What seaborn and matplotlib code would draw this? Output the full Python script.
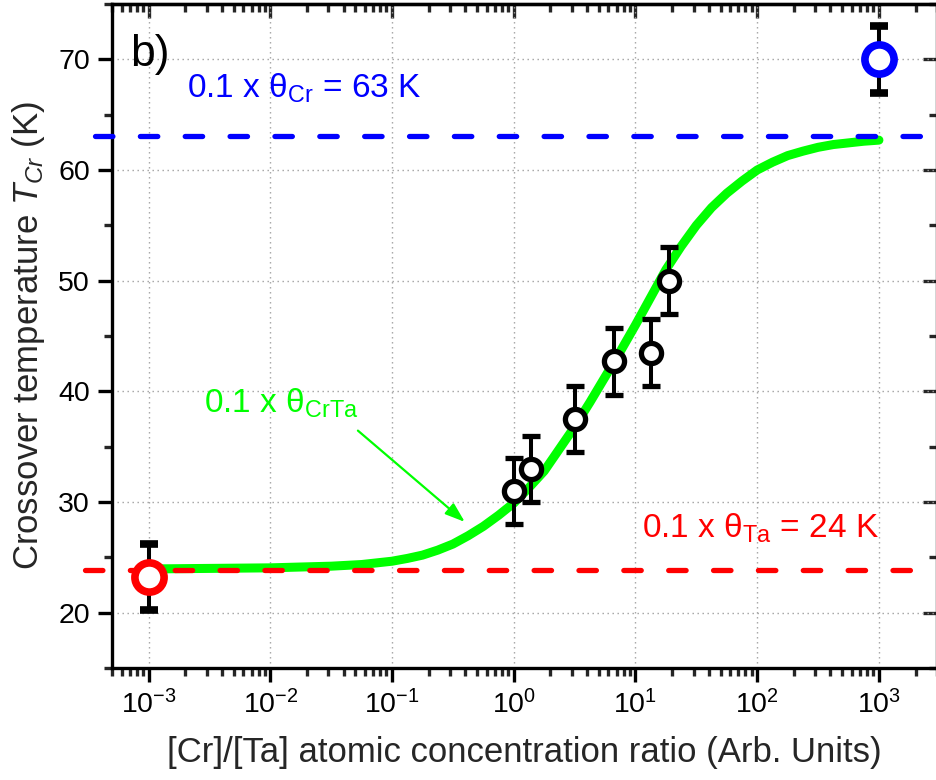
import numpy as np
import pandas as pd
import matplotlib
matplotlib.use("Agg")
import matplotlib.pyplot as plt
import seaborn as sns
from matplotlib.ticker import LogLocator, NullFormatter, MultipleLocator, LogFormatterSciNotation

# ---- data ----
cr_ratio = [1.0, 1.38, 3.17, 6.67, 13.3, 19.0]        # CrTa samples
t_cross = [31.0, 33.0, 37.5, 42.7, 43.5, 50.0]
t_err = [3.0, 3.0, 3.0, 3.0, 3.0, 3.0]

ta_ratio = [1e-3]        # pure Ta
ta_t = [23.2]
ta_err = [3.0]

crpure_ratio = [1e3]     # pure Cr
crpure_t = [70.0]
crpure_err = [3.0]

theta_ta = 23.9          # 0.1 x theta_Ta
theta_cr = 63.1          # 0.1 x theta_Cr

# green curve 0.1 x theta_CrTa, log10(ratio) vs temperature
curve_logx = [-3.0, -2.5, -2.0, -1.5, -1.25, -1.0, -0.875, -0.75, -0.625, -0.5,
              -0.375, -0.25, -0.125, 0.0, 0.125, 0.25, 0.375, 0.5, 0.625, 0.75,
              0.875, 1.0, 1.125, 1.25, 1.375, 1.5, 1.625, 1.75, 1.875, 2.0,
              2.125, 2.25, 2.375, 2.5, 2.625, 2.75, 2.875, 3.0]
curve_t = [23.95, 24.0, 24.05, 24.2, 24.35, 24.65, 24.9, 25.2, 25.65, 26.2,
           26.95, 27.8, 28.8, 29.9, 31.3, 32.8, 34.8, 36.8, 39.0, 41.3,
           43.6, 46.0, 48.5, 51.0, 53.1, 55.0, 56.6, 57.9, 59.0, 60.0,
           60.7, 61.3, 61.7, 62.05, 62.3, 62.45, 62.6, 62.7]

x_major = [1e-3, 1e-2, 1e-1, 1e0, 1e1, 1e2, 1e3]

# ---- style ----
sns.set_theme(style="ticks")
plt.rcParams["font.family"] = ["Liberation Sans", "DejaVu Sans"]
plt.rcParams["mathtext.fontset"] = "custom"
plt.rcParams["mathtext.rm"] = "Liberation Sans"
plt.rcParams["mathtext.it"] = "Liberation Sans:italic"
plt.rcParams["axes.linewidth"] = 2.4

GREEN = "#00ff00"
BLUE = "#0000ff"
RED = "#ff0000"

fig = plt.figure(figsize=(9.37, 7.8), dpi=100)
ax = fig.add_axes([112 / 937, 112 / 780, 825 / 937, 664 / 780])
ax.set_xscale("log")
ax.set_xlim(5e-4, 3e3)
ax.set_ylim(15, 75)

ax.grid(True, which="major", color="#a0a0a0", linestyle=(0, (1, 2.6)), linewidth=1.0)
ax.set_axisbelow(True)

# fitted curve
curve_df = pd.DataFrame({"ratio": 10 ** np.array(curve_logx), "T": curve_t})
sns.lineplot(data=curve_df, x="ratio", y="T", ax=ax, color=GREEN, linewidth=6.5,
             solid_capstyle="round", solid_joinstyle="round", sort=False, zorder=3)

# Debye reference lines
ax.plot([3e-4, 3.2e3], [theta_ta, theta_ta], color=RED, lw=3.8, dashes=(3.3, 5.2),
        dash_capstyle="round", clip_on=False, zorder=4)
ax.plot([3.6e-4, 3.2e3], [theta_cr, theta_cr], color=BLUE, lw=3.8, dashes=(3.3, 5.2),
        dash_capstyle="round", clip_on=False, zorder=4)

# data points
eb = dict(ecolor="black", elinewidth=2.9, capsize=6.5, capthick=2.9, linestyle="none", zorder=5)
ax.errorbar(cr_ratio, t_cross, yerr=t_err, fmt="o", ms=14.5, mfc="white", mec="black", mew=3.8, **eb)
ax.errorbar(ta_ratio, ta_t, yerr=ta_err, fmt="o", ms=21, mfc="white", mec=RED, mew=5.5, **eb)
ax.errorbar(crpure_ratio, crpure_t, yerr=crpure_err, fmt="o", ms=21, mfc="white", mec=BLUE, mew=5.5, **eb)

# annotations
ax.text(7.0e-4, 69.4, "b)", fontsize=32, color="black", va="baseline")
ax.text(2.05e-3, 66.5, r"0.1 x θ$_{\mathrm{Cr}}$ = 63 K", fontsize=24, color=BLUE, va="baseline")
ax.text(11.4, 26.75, r"0.1 x θ$_{\mathrm{Ta}}$ = 24 K", fontsize=24, color=RED, va="baseline")
ax.text(2.84e-3, 38.1, r"0.1 x θ$_{\mathrm{CrTa}}$", fontsize=24, color=GREEN, va="baseline")
ax.annotate("", xy=(0.396, 28.2), xytext=(0.0524, 36.45),
            arrowprops=dict(arrowstyle="-|>,head_length=1.0,head_width=0.35", color=GREEN,
                            lw=1.6, shrinkA=0, shrinkB=0), zorder=3)

# axes labels
ax.set_xlabel("[Cr]/[Ta] atomic concentration ratio (Arb. Units)", fontsize=25, labelpad=12)
ax.set_ylabel(r"Crossover temperature $T_{Cr}$ (K)", fontsize=25, labelpad=8)

# ticks
ax.set_xticks(x_major)
ax.xaxis.set_minor_locator(LogLocator(base=10, subs=np.arange(2, 10), numticks=20))
ax.xaxis.set_major_formatter(LogFormatterSciNotation())
ax.xaxis.set_minor_formatter(NullFormatter())
ax.yaxis.set_major_locator(MultipleLocator(10))
ax.yaxis.set_minor_locator(MultipleLocator(5))
ax.tick_params(which="major", direction="out", length=10, width=2.4, labelsize=20.5,
               pad=6, colors="black", bottom=True, left=True, top=False, right=False)
ax.tick_params(which="minor", direction="out", length=5.5, width=2.4,
               bottom=True, left=True, top=False, right=False)

# mirrored inward ticks on top and right
top = ax.secondary_xaxis("top", functions=(lambda v: v, lambda v: v))
top.set_xticks(x_major)
top.xaxis.set_minor_locator(LogLocator(base=10, subs=np.arange(2, 10), numticks=20))
top.xaxis.set_major_formatter(NullFormatter())
top.xaxis.set_minor_formatter(NullFormatter())
top.tick_params(which="major", direction="in", length=10, width=2.4)
top.tick_params(which="minor", direction="in", length=5.5, width=2.4)

right = ax.secondary_yaxis("right", functions=(lambda v: v, lambda v: v))
right.yaxis.set_major_locator(MultipleLocator(10))
right.yaxis.set_minor_locator(MultipleLocator(5))
right.yaxis.set_major_formatter(NullFormatter())
right.tick_params(which="major", direction="in", length=10, width=2.4)
right.tick_params(which="minor", direction="in", length=5.5, width=2.4)

for s in ax.spines.values():
    s.set_color("black")
    s.set_linewidth(2.4)

fig.savefig("out.png", dpi=100)
